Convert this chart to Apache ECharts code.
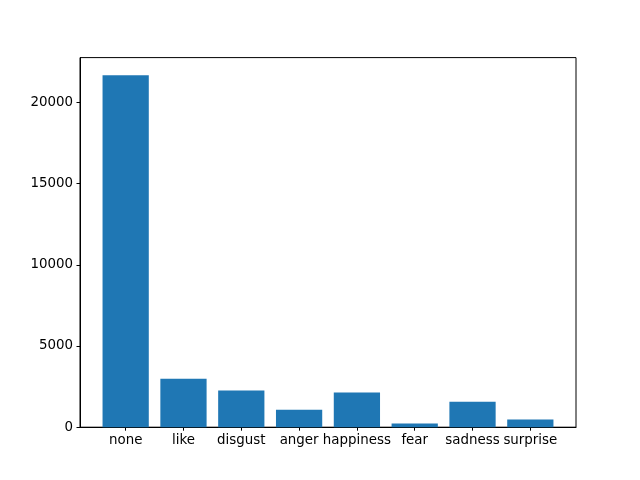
<!DOCTYPE html>
<html><head><meta charset="utf-8">
<script src="https://cdn.jsdelivr.net/npm/echarts@6/dist/echarts.min.js"></script>
<style>html,body{margin:0;padding:0;background:#fff}#c{width:640px;height:480px}</style>
</head><body><div id="c"></div>
<script>
const categories = ['none','like','disgust','anger','happiness','fear','sadness','surprise'];
const counts = [21670, 2980, 2260, 1080, 2140, 235, 1570, 470];
const yTicks = [0, 5000, 10000, 15000, 20000];

const gridLeft = 80, gridRight = 64, gridTop = 57.6, gridBottom = 52.8;
const n = categories.length;
const margin = 0.05 * (n - 1 + 0.8);
const xMin = -0.4 - margin, xMax = n - 1 + 0.4 + margin;
const plotW = 640 - gridLeft - gridRight;
const unit = plotW / (xMax - xMin);
const pad = (-0.5 - xMin) * unit;
const yMax = Math.max(...counts) * 1.05;
const font = 'DejaVu Sans';
const fs = 13.4;

const chart = echarts.init(document.getElementById('c'), null, {renderer: 'canvas'});
chart.setOption({
  animation: false,
  backgroundColor: '#fff',
  grid: [
    {left: gridLeft, right: gridRight, top: gridTop, bottom: gridBottom, show: true, borderColor: '#000', borderWidth: 1, containLabel: false},
    {left: gridLeft + pad, right: gridRight + pad, top: gridTop, bottom: gridBottom, show: false, containLabel: false}
  ],
  xAxis: [
    {gridIndex: 0, type: 'value', min: xMin, max: xMax,
      axisLine: {show: true, onZero: false, lineStyle: {color: '#000', width: 1}},
      axisTick: {show: false}, axisLabel: {show: false}, splitLine: {show: false}},
    {gridIndex: 1, type: 'category', data: categories, boundaryGap: true,
      axisLine: {show: false, onZero: false},
      axisTick: {show: true, alignWithLabel: true, length: 3.5, lineStyle: {color: '#000', width: 1}},
      axisLabel: {show: true, interval: 0, margin: 7, color: '#000', fontFamily: font, fontSize: fs},
      splitLine: {show: false}}
  ],
  yAxis: [
    {gridIndex: 0, type: 'value', min: 0, max: yMax,
      axisLine: {show: true, onZero: false, lineStyle: {color: '#000', width: 1}},
      axisTick: {show: true, length: 3.5, customValues: yTicks, lineStyle: {color: '#000', width: 1}},
      axisLabel: {show: true, margin: 7, color: '#000', fontFamily: font, fontSize: fs, customValues: yTicks,
        formatter: v => String(v)},
      splitLine: {show: false}},
    {gridIndex: 1, type: 'value', min: 0, max: yMax, show: false, splitLine: {show: false}}
  ],
  series: [{
    type: 'bar', xAxisIndex: 1, yAxisIndex: 1,
    data: counts,
    barWidth: '80%',
    itemStyle: {color: '#1f77b4'}
  }]
});
</script></body></html>
